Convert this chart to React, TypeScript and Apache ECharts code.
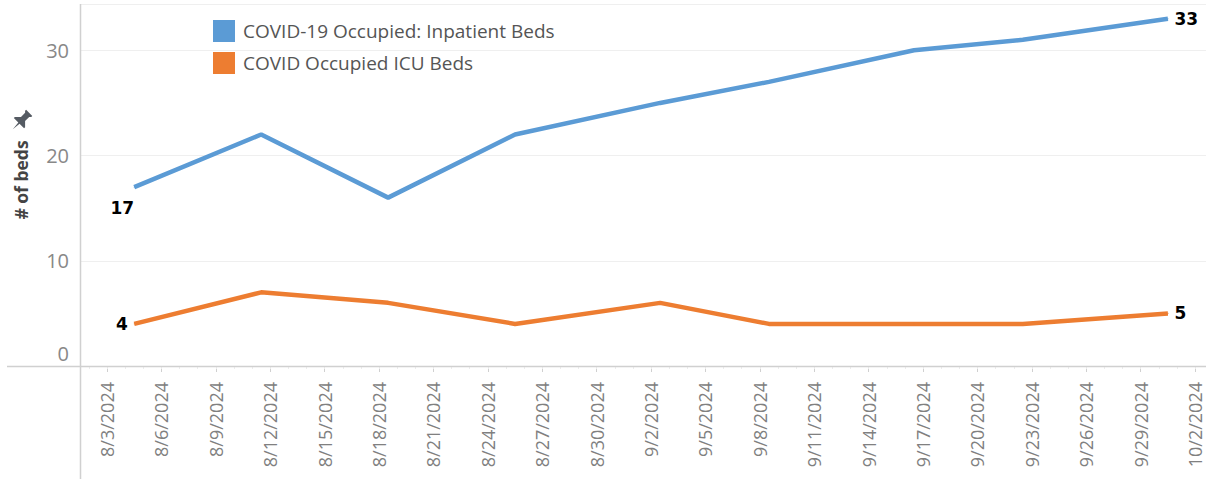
import React, { useEffect, useRef } from 'react';
import * as echarts from 'echarts';

// ---- data ----
const reportDates = ['2024-08-04', '2024-08-11', '2024-08-18', '2024-08-25', '2024-09-02', '2024-09-08', '2024-09-16', '2024-09-22', '2024-09-30'];
const inpatientBeds = [17, 22, 16, 22, 25, 27, 30, 31, 33];
const icuBeds = [4, 7, 6, 4, 6, 4, 4, 4, 5];
const seriesNames = ['COVID-19 Occupied: Inpatient Beds', 'COVID Occupied ICU Beds'];
const xTickDates = ['2024-08-03', '2024-08-06', '2024-08-09', '2024-08-12', '2024-08-15', '2024-08-18', '2024-08-21', '2024-08-24', '2024-08-27', '2024-08-30', '2024-09-02', '2024-09-05', '2024-09-08', '2024-09-11', '2024-09-14', '2024-09-17', '2024-09-20', '2024-09-23', '2024-09-26', '2024-09-29', '2024-10-02'];
const yTicks = [0, 10, 20, 30];
const yAxisTitle = '# of beds';

const DAY = 86400000;
const toTime = (s: string, hour = 0) => {
  const [y, m, d] = s.split('-').map(Number);
  return Date.UTC(y, m - 1, d, hour);
};
const ORIGIN = toTime(xTickDates[0]);
// day number relative to the first tick date (the time scale of the axis)
const toDay = (s: string, hour = 0) => (toTime(s, hour) - ORIGIN) / DAY;
const fmtDay = (v: number) => {
  const d = new Date(ORIGIN + Math.round(v) * DAY);
  return `${d.getUTCMonth() + 1}/${d.getUTCDate()}/${d.getUTCFullYear()}`;
};

const BLUE = '#5b9bd5';
const ORANGE = '#ed7d31';
const FONT = '"Open Sans", "Noto Sans", sans-serif';

const PIN = 'M-3 -8 L3 -8 L3 -7 L2 -6 L2 -2 L5 1 L5 2 L0.6 2 L0 8 L-0.6 2 L-5 2 L-5 1 L-2 -2 L-2 -6 L-3 -7 Z';
let pinRegistered = false;

export default function App() {
  const ref = useRef<HTMLDivElement>(null);
  useEffect(() => {
    if (!ref.current) return;
    if (!pinRegistered) {
      echarts.graphic.registerShape('pin', echarts.graphic.extendPath(PIN, {}) as any);
      pinRegistered = true;
    }
    const chart = echarts.init(ref.current, null, { renderer: 'svg' });
    const xMin = -1.49;
    const xMax = 60.6;
    const tickVals = xTickDates.map((s) => toDay(s));
    const dayVals: number[] = [];
    for (let d = -1; d <= 60; d++) dayVals.push(d);

    const labelStyle = { fontFamily: '"DejaVu Sans", sans-serif', fontWeight: 'bold' as const, fontSize: 17, color: '#000' };
    const mk = (vals: number[], firstPos: any) =>
      vals.map((v, i) => {
        const item: any = { value: [toDay(reportDates[i], 12), v] };
        if (i === 0) item.label = { show: true, ...firstPos, ...labelStyle };
        if (i === vals.length - 1) item.label = { show: true, position: 'right', distance: 6, ...labelStyle };
        return item;
      });

    chart.setOption({
      animation: false,
      grid: { left: 80, right: 0, top: 4, bottom: 113, containLabel: false },
      legend: {
        orient: 'vertical',
        left: 208,
        top: 15,
        itemWidth: 22,
        itemHeight: 22,
        itemGap: 10,
        icon: 'rect',
        textStyle: { fontFamily: FONT, fontSize: 19, color: '#555', padding: [0, 0, 0, 3] },
        data: seriesNames,
      },
      xAxis: [
        {
          type: 'value',
          min: xMin,
          max: xMax,
          axisLine: { show: false },
          splitLine: { show: false },
          axisTick: { show: true, customValues: tickVals, length: 6, lineStyle: { color: '#d0d0d0' } },
          axisLabel: {
            customValues: tickVals,
            rotate: 90,
            margin: 16,
            fontFamily: FONT,
            fontSize: 18,
            lineHeight: 16,
            color: '#808080',
            formatter: (v: number) => fmtDay(v),
            hideOverlap: false,
          },
        },
        {
          type: 'value',
          min: xMin,
          max: xMax,
          position: 'bottom',
          axisLine: { show: false },
          splitLine: { show: false },
          axisTick: { show: true, customValues: dayVals, length: 3, lineStyle: { color: '#ececec' } },
          axisLabel: { show: false },
        },
      ],
      yAxis: {
        type: 'value',
        min: 0,
        max: 34.4,
        interval: 10,
        name: yAxisTitle,
        nameLocation: 'middle',
        nameGap: 50,
        nameTextStyle: { fontFamily: FONT, fontSize: 17.5, fontWeight: 'bold', color: '#444', padding: [0, 0, 0, 10] },
        axisLine: { show: false },
        axisTick: { show: false },
        splitLine: { show: true, lineStyle: { color: '#efefef', width: 1 } },
        axisLabel: {
          customValues: yTicks,
          margin: 11,
          fontFamily: FONT,
          fontSize: 20,
          color: '#888',
          formatter: (v: number) => (v === yTicks[0] ? '{z|' + v + '}' : String(v)),
          rich: { z: { fontFamily: FONT, fontSize: 20, color: '#888', padding: [0, 0, 26, 0] } },
        },
      },
      series: [
        {
          name: seriesNames[0],
          type: 'line',
          showSymbol: true,
          symbol: 'circle',
          symbolSize: 1,
          color: BLUE,
          lineStyle: { width: 4.5, color: BLUE },
          data: mk(inpatientBeds, { position: 'bottom', distance: 12, offset: [-12, 0] }),
          z: 3,
        },
        {
          name: seriesNames[1],
          type: 'line',
          showSymbol: true,
          symbol: 'circle',
          symbolSize: 1,
          color: ORANGE,
          lineStyle: { width: 4.5, color: ORANGE },
          data: mk(icuBeds, { position: 'left', distance: 6 }),
          z: 3,
        },
      ],
      graphic: [
        { type: 'line', shape: { x1: 80.5, y1: 4, x2: 80.5, y2: 479 }, style: { stroke: '#d0d0d0', lineWidth: 1.5 }, z: 1 },
        { type: 'line', shape: { x1: 7, y1: 366.5, x2: 1206, y2: 366.5 }, style: { stroke: '#d0d0d0', lineWidth: 1.5 }, z: 1 },
        { type: 'pin', x: 21, y: 121, scaleX: 1.45, scaleY: 1.45, rotation: -Math.PI / 4, style: { fill: '#555b63' }, z: 5 },
      ],
    });
    return () => chart.dispose();
  }, []);
  return <div ref={ref} style={{ position: 'absolute', left: 0, top: 0, width: 1206, height: 479 }} />;
}
